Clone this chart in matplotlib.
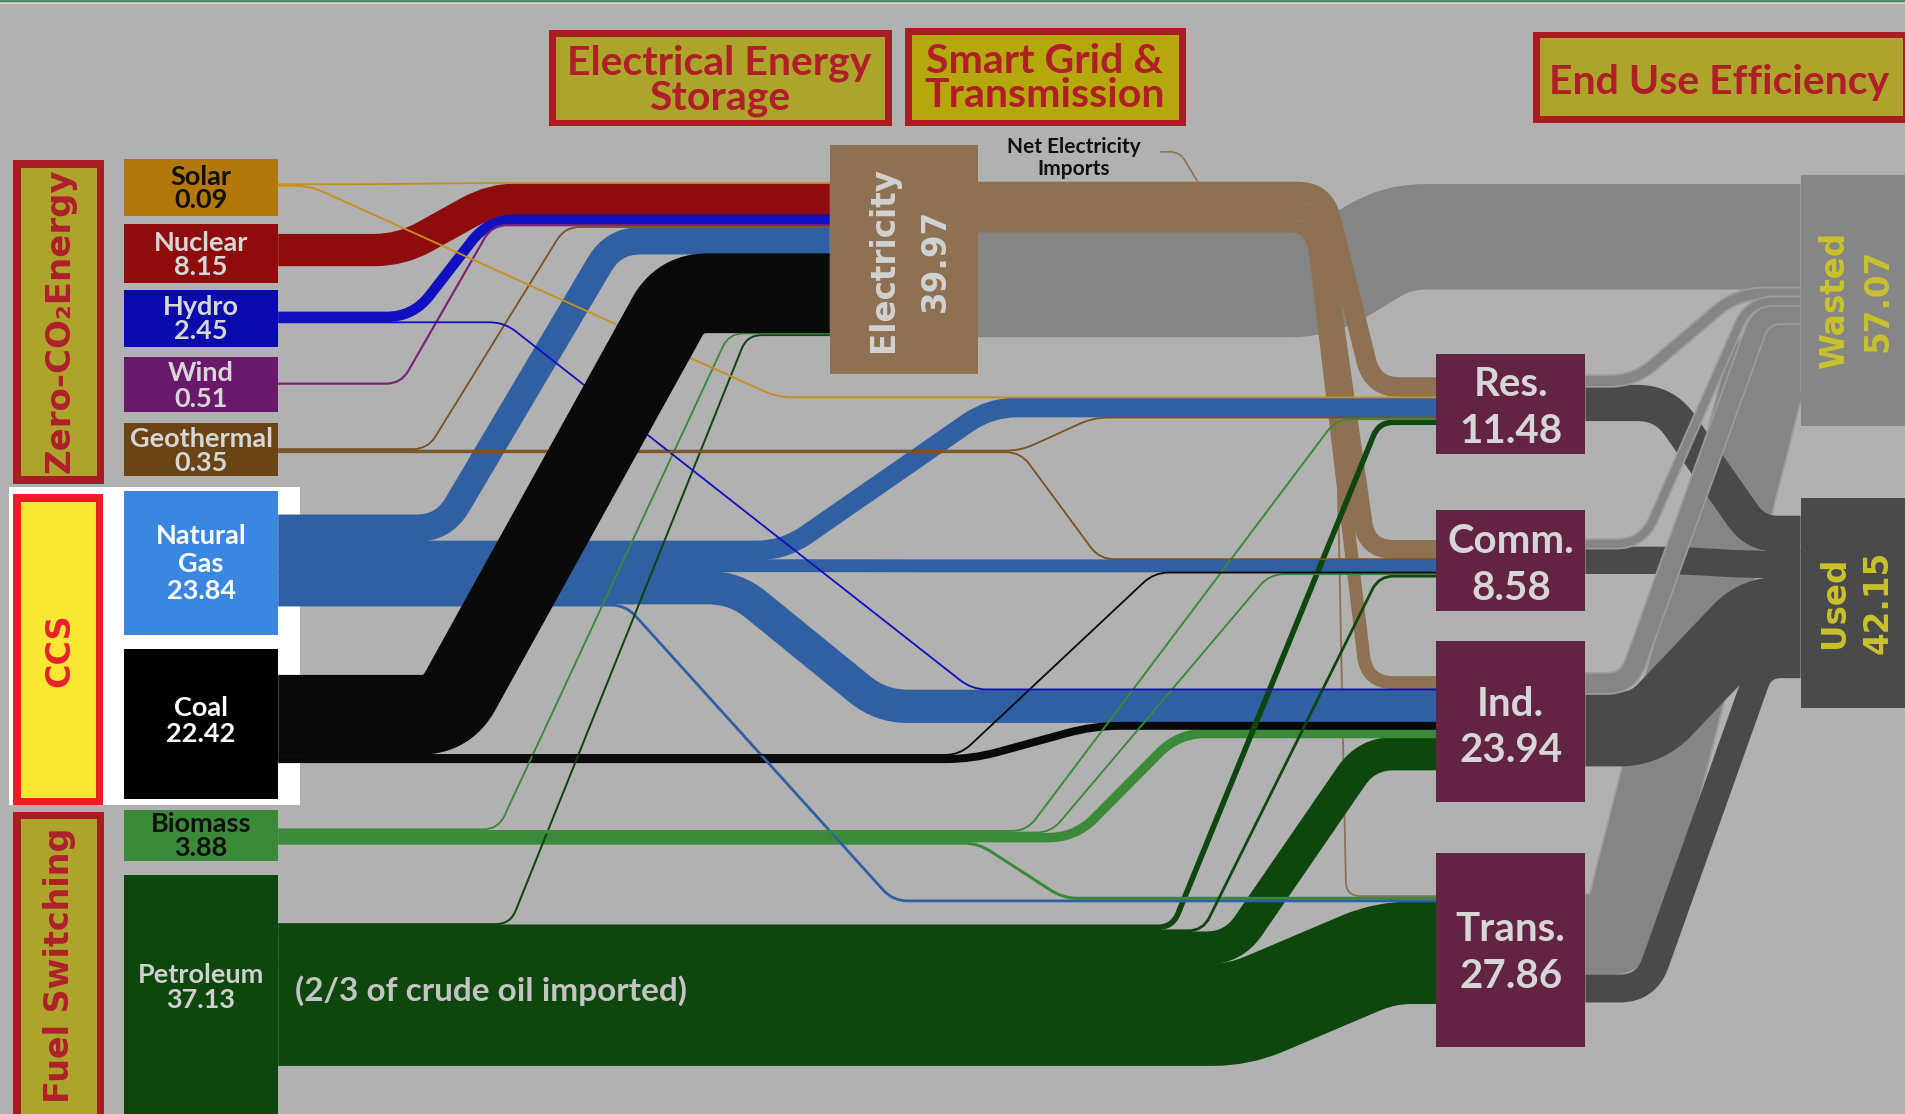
import numpy as np
import matplotlib
matplotlib.use('Agg')
import matplotlib.pyplot as plt
from matplotlib.path import Path
from matplotlib.patches import PathPatch, Rectangle
import matplotlib.patheffects as pe

# drawing units follow the reference as displayed (1568 x 917)
W, H = 1568, 917
PT = 1905 / 1568 * 0.72      # points per drawing unit at dpi 100
K = 3.15                     # drawing units per quad
MIN_W = 1.3

# ---- data (quads) ----
sources = ['Solar', 'Nuclear', 'Hydro', 'Wind', 'Geothermal', 'Natural Gas', 'Coal', 'Biomass', 'Petroleum']
source_values = [0.09, 8.15, 2.45, 0.51, 0.35, 23.84, 22.42, 3.88, 37.13]
sectors = ['Res.', 'Comm.', 'Ind.', 'Trans.']
sector_values = [11.48, 8.58, 23.94, 27.86]
electricity_value = 39.97
wasted_value = 57.07
used_value = 42.15

to_elec = [0.01, 8.15, 2.43, 0.51, 0.30, 6.82, 20.56, 0.42, 0.46]
to_res = [0.08, 0, 0, 0, 0.03, 4.87, 0, 0.43, 1.17]
to_comm = [0, 0, 0, 0, 0.02, 3.08, 0.07, 0.11, 0.65]
to_ind = [0, 0, 0.02, 0, 0, 8.41, 1.79, 2.21, 8.38]
to_trans = [0, 0, 0, 0, 0, 0.66, 0, 0.71, 26.47]
elec_to_sector = [4.90, 4.65, 3.13, 0.02]
elec_rejected = 27.27
net_imports = 0.11
sector_wasted = [2.30, 1.72, 4.79, 20.89]
sector_used = [9.18, 6.86, 19.15, 6.97]

# ---- flows ----
flows = []
for i, s in enumerate(sources):
    for tgt, arr in zip(['Elec'] + sectors, [to_elec, to_res, to_comm, to_ind, to_trans]):
        if arr[i] > 0:
            flows.append((s, tgt, arr[i]))
for j, sec in enumerate(sectors):
    flows.append(('Elec', sec, elec_to_sector[j]))
flows.append(('Elec', 'Wasted', elec_rejected))
for j, sec in enumerate(sectors):
    flows.append((sec, 'Wasted', sector_wasted[j]))
    flows.append((sec, 'Used', sector_used[j]))

# ---- layout ----
x_right = {s: 229 for s in sources}
x_right.update({'Elec': 805, 'Res.': 1305, 'Comm.': 1305, 'Ind.': 1305, 'Trans.': 1305})
x_left = {'Elec': 683, 'Res.': 1182, 'Comm.': 1182, 'Ind.': 1182, 'Trans.': 1182,
          'Wasted': 1482, 'Used': 1482}
out_top = {'Solar': 151, 'Nuclear': 193, 'Hydro': 257, 'Wind': 315, 'Geothermal': 369,
           'Natural Gas': 424, 'Coal': 556, 'Biomass': 682, 'Petroleum': 760,
           'Elec': 150, 'Res.': 310, 'Comm.': 445, 'Ind.': 555, 'Trans.': 737}
in_top = {'Elec': 150, 'Res.': 311, 'Comm.': 445, 'Ind.': 557, 'Trans.': 737,
          'Wasted': 152, 'Used': 425}
out_order = {s: ['Elec', 'Res.', 'Comm.', 'Ind.', 'Trans.'] for s in sources}
out_order['Coal'] = ['Elec', 'Comm.', 'Ind.']
out_order['Elec'] = ['Res.', 'Comm.', 'Ind.', 'Trans.', 'Wasted']
for sec in sectors:
    out_order[sec] = ['Wasted', 'Used']
in_order = {'Elec': sources,
            'Res.': ['Elec', 'Solar', 'Natural Gas', 'Geothermal', 'Biomass', 'Petroleum'],
            'Comm.': ['Elec', 'Geothermal', 'Natural Gas', 'Coal', 'Biomass', 'Petroleum'],
            'Ind.': ['Elec', 'Hydro', 'Natural Gas', 'Coal', 'Biomass', 'Petroleum'],
            'Trans.': ['Elec', 'Biomass', 'Natural Gas', 'Petroleum'],
            'Wasted': ['Elec'] + sectors,
            'Used': sectors}
bends = {
    ('Solar', 'Elec'): (300, 400), ('Solar', 'Res.'): (255, 640),
    ('Nuclear', 'Elec'): (330, 405),
    ('Hydro', 'Elec'): (340, 402), ('Hydro', 'Ind.'): (415, 800),
    ('Wind', 'Elec'): (330, 405),
    ('Geothermal', 'Elec'): (352, 465), ('Geothermal', 'Res.'): (840, 900),
    ('Geothermal', 'Comm.'): (840, 905),
    ('Natural Gas', 'Elec'): (365, 505), ('Natural Gas', 'Res.'): (645, 815),
    ('Natural Gas', 'Comm.'): (700, 760), ('Natural Gas', 'Ind.'): (605, 725),
    ('Natural Gas', 'Trans.'): (515, 735),
    ('Coal', 'Elec'): (368, 560), ('Coal', 'Comm.'): (790, 950), ('Coal', 'Ind.'): (800, 900),
    ('Biomass', 'Elec'): (410, 600), ('Biomass', 'Res.'): (845, 1100),
    ('Biomass', 'Comm.'): (865, 1045), ('Biomass', 'Ind.'): (885, 970),
    ('Biomass', 'Trans.'): (805, 875),
    ('Petroleum', 'Elec'): (420, 615), ('Petroleum', 'Res.'): (965, 1135),
    ('Petroleum', 'Comm.'): (990, 1135), ('Petroleum', 'Ind.'): (1015, 1125),
    ('Petroleum', 'Trans.'): (1020, 1140),
    ('Elec', 'Res.'): (1090, 1130), ('Elec', 'Comm.'): (1085, 1125),
    ('Elec', 'Ind.'): (1080, 1125), ('Elec', 'Trans.'): (1097, 1108),
    ('Elec', 'Wasted'): (1085, 1150),
    ('Res.', 'Wasted'): (1345, 1430), ('Res.', 'Used'): (1370, 1445),
    ('Comm.', 'Wasted'): (1352, 1440), ('Comm.', 'Used'): (1380, 1440),
    ('Ind.', 'Wasted'): (1340, 1450), ('Ind.', 'Used'): (1355, 1445),
    ('Trans.', 'Wasted'): (1335, 1455), ('Trans.', 'Used'): (1355, 1450),
}
flow_color = {'Solar': '#c8901a', 'Nuclear': '#8f0c0c', 'Hydro': '#1010c0', 'Wind': '#7a237a',
              'Geothermal': '#7a5225', 'Natural Gas': '#3060a2', 'Coal': '#0a0a0a',
              'Biomass': '#3a8a3a', 'Petroleum': '#0d470d', 'Elec': '#8e7152'}


def width(v):
    return max(v * K, MIN_W)


# stack positions (centre y of each flow at both ends)
y_src, y_dst = {}, {}
for node, order in out_order.items():
    y = out_top[node]
    for tgt in order:
        for f in flows:
            if f[0] == node and f[1] == tgt:
                w = width(f[2])
                y_src[(node, tgt)] = y + w / 2
                y += w
for node, order in in_order.items():
    y = in_top[node]
    for src in order:
        for f in flows:
            if f[0] == src and f[1] == node:
                w = width(f[2])
                y_dst[(src, node)] = y + w / 2
                y += w


def band_path(x0, y0, xa, xb, x1, y1, r):
    pts = [np.array(p, float) for p in [(x0, y0), (xa, y0), (xb, y1), (x1, y1)]]
    verts, codes = [tuple(pts[0])], [Path.MOVETO]
    for i in (1, 2):
        p, a, b = pts[i], pts[i - 1], pts[i + 1]
        da, db = p - a, b - p
        la, lb = np.hypot(*da), np.hypot(*db)
        rr = min(r, la / 2, lb / 2)
        if rr < 0.5:
            verts.append(tuple(p)); codes.append(Path.LINETO)
            continue
        verts += [tuple(p - da / la * rr), tuple(p), tuple(p + db / lb * rr)]
        codes += [Path.LINETO, Path.CURVE3, Path.CURVE3]
    verts.append(tuple(pts[3])); codes.append(Path.LINETO)
    return Path(verts, codes)


fig = plt.figure(figsize=(19.05, 11.14), dpi=100)
fig.patch.set_facecolor('#b1b1b1')
ax = fig.add_axes([0, 0, 1, 1])
ax.set_xlim(0, W)
ax.set_ylim(H, 0)
ax.axis('off')

# top frame lines
ax.add_patch(Rectangle((0, 0), W, 1.6, color='#4f8a64', lw=0, zorder=1))
ax.add_patch(Rectangle((0, 2.4), W, 1.0, color='#d8d8d8', lw=0, zorder=1))

# white CCS highlight
ax.add_patch(Rectangle((7, 401), 240, 262, color='white', lw=0, zorder=1))


def rank(f):
    s, t, v = f
    if s == 'Elec':
        return (0 if t == 'Wasted' else 1, -v)
    if (s, t) == ('Coal', 'Elec'):
        return (3, 0)
    return (2, -v)


for f in sorted(flows, key=rank):
    s, t, v = f
    w = width(v)
    xa, xb = bends[(s, t)]
    path = band_path(x_right[s], y_src[(s, t)], xa, xb, x_left[t], y_dst[(s, t)],
                     22 if w > 4 else 12)
    if t == 'Wasted':
        col = '#858585'
    elif t == 'Used':
        col = '#4a4a4a'
    else:
        col = flow_color[s]
    draw_w = w + (0.9 if w > 3 else 0.2)   # small overlap hides seams between strands
    patch = PathPatch(path, fill=False, lw=draw_w * PT, edgecolor=col, capstyle='butt',
                      joinstyle='round', zorder=2)
    if s in sectors and t == 'Wasted':
        patch.set_path_effects([pe.Stroke(linewidth=draw_w * PT + 2.5, foreground='#9c9c9c'),
                                pe.Normal()])
    ax.add_patch(patch)

# net electricity imports line
imp = band_path(955, 125, 971, 986, 986.01, 150, 10)
ax.add_patch(PathPatch(imp, fill=False, lw=width(net_imports) * PT, edgecolor='#8e7152',
                       capstyle='butt', zorder=2))

# ---- boxes ----
source_boxes = {'Solar': (131, 178, '#b3780c'), 'Nuclear': (184, 233, '#8f0c0c'),
                'Hydro': (239, 286, '#0a0aad'), 'Wind': (294, 339, '#6a196a'),
                'Geothermal': (348, 392, '#6b4416'), 'Natural Gas': (404, 523, '#3a86e0'),
                'Coal': (534, 658, '#000000'), 'Biomass': (667, 709, '#3a8a3a'),
                'Petroleum': (720, 925, '#0d470d')}
for s, (y0, y1, c) in source_boxes.items():
    ax.add_patch(Rectangle((102, y0), 127, y1 - y0, color=c, lw=0, zorder=5))

ax.add_patch(Rectangle((683, 119), 122, 189, color='#8e7152', lw=0, zorder=5))
sector_boxes = {'Res.': (291, 374), 'Comm.': (420, 503), 'Ind.': (528, 660), 'Trans.': (702, 862)}
for sec, (y0, y1) in sector_boxes.items():
    ax.add_patch(Rectangle((1182, y0), 123, y1 - y0, color='#632343', lw=0, zorder=5))
ax.add_patch(Rectangle((1482, 144), 90, 207, color='#868686', lw=0, zorder=5))
ax.add_patch(Rectangle((1482, 410), 90, 173, color='#4a4a4a', lw=0, zorder=5))


def framed(x0, y0, x1, y1, edge, fill, b):
    ax.add_patch(Rectangle((x0, y0), x1 - x0, y1 - y0, color=edge, lw=0, zorder=5))
    ax.add_patch(Rectangle((x0 + b, y0 + b), x1 - x0 - 2 * b, y1 - y0 - 2 * b,
                           color=fill, lw=0, zorder=5))


framed(11, 132, 86, 398, '#a81c24', '#ada42c', 6.5)
framed(11, 407, 85, 663, '#ee1c25', '#f9e833', 6)
framed(11, 668, 86, 935, '#a81c24', '#ada42c', 6.5)
framed(452, 25, 734, 104, '#a81c24', '#ada42c', 5.5)
framed(745, 23, 976, 104, '#a81c24', '#b5a80c', 5.5)
framed(1262, 26, 1572, 101, '#a81c24', '#ada42c', 5.5)

# ---- text ----
LAB = ['Lato', 'DejaVu Sans']
ROT = ['DejaVu Sans']


def lines(x, bases, texts, size, color, family=LAB):
    for yb, tx in zip(bases, texts):
        ax.text(x, yb, tx, ha='center', va='baseline', fontsize=size, color=color,
                fontweight='bold', family=family, zorder=6)


src_label = {'Solar': (152, 19.5, '#111111'), 'Nuclear': (207, 19.5, '#d6d6d6'),
             'Hydro': (259, 20, '#d6d6d6'), 'Wind': (314, 21, '#d6d6d6'),
             'Geothermal': (368, 20, '#d6d6d6'), 'Natural Gas': (448, 22.5, '#ffffff'),
             'Coal': (589, 22, '#ffffff'), 'Biomass': (685, 20, '#111111'),
             'Petroleum': (809, 21, '#cfcfcf')}
for s, v in zip(sources, source_values):
    yb, step, c = src_label[s]
    parts = s.split(' ') + [f'{v:.2f}']
    lines(165.5, [yb + k * step for k in range(len(parts))], parts, 19.5, c)

sec_base = {'Res.': 326, 'Comm.': 455, 'Ind.': 589, 'Trans.': 775}
for sec, v in zip(sectors, sector_values):
    lines(1243.5, [sec_base[sec], sec_base[sec] + 38.5], [sec, f'{v:.2f}'], 29, '#d6d6d6')


def rot_label(x, y, text, size, color):
    ax.text(x, y, text, ha='center', va='center', rotation=90, fontsize=size, color=color,
            fontweight='bold', family=ROT, zorder=6)


rot_label(727, 214, 'Electricity', 23.5, '#d2d2d2')
rot_label(770, 214, f'{electricity_value:.2f}', 23.5, '#d2d2d2')
rot_label(1510, 247, 'Wasted', 23.5, '#c9c22c')
rot_label(1546, 247, f'{wasted_value:.2f}', 23.5, '#c9c22c')
rot_label(1510, 496, 'Used', 23.5, '#c9c22c')
rot_label(1546, 496, f'{used_value:.2f}', 23.5, '#c9c22c')
rot_label(49, 264, 'Zero-CO₂Energy', 24.5, '#b0202a')
rot_label(49, 535, 'CCS', 24, '#e8202a')
rot_label(49, 795, 'Fuel Switching', 24, '#b0202a')

lines(592, [61, 90], ['Electrical Energy', 'Storage'], 29.5, '#b01e28')
lines(860, [60, 88], ['Smart Grid &', 'Transmission'], 29.5, '#b01e28')
lines(1415, [77], ['End Use Efficiency'], 29.5, '#b01e28')
lines(884, [126, 144], ['Net Electricity', 'Imports'], 15, '#111111')
ax.text(243, 824, '(2/3 of crude oil imported)', ha='left', va='baseline', fontsize=24,
        color='#c4c4c4', fontweight='bold', family=LAB, zorder=6)

fig.savefig('out.png', dpi=100, facecolor=fig.get_facecolor())
